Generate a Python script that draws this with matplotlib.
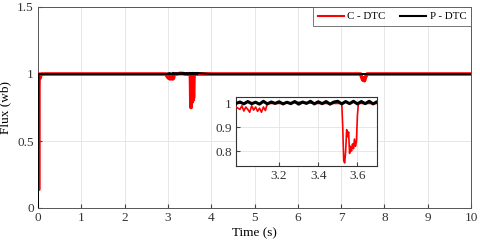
import matplotlib
matplotlib.use('Agg')
import matplotlib.pyplot as plt

# C - DTC flux (red)
t_c = [0.0, 0.02, 0.021, 0.025, 0.04, 0.05, 0.06, 0.08, 0.1, 1.0, 2.0, 2.95,
       3.0, 3.01, 3.02, 3.03, 3.04, 3.05, 3.06, 3.07, 3.08, 3.09, 3.1, 3.11,
       3.12, 3.13, 3.14, 3.2, 3.3, 3.4, 3.5, 3.52, 3.525, 3.53, 3.535, 3.54,
       3.545, 3.55, 3.555, 3.56, 3.565, 3.57, 3.575, 3.58, 3.585, 3.59, 3.595,
       3.6, 3.605, 3.65, 3.7, 4.0, 5.0, 6.0, 7.0, 7.45, 7.5, 7.52, 7.54, 7.56,
       7.6, 8.0, 9.0, 10.0]
flux_c = [0.14, 0.14, 0.9, 1.0, 0.985, 0.97, 0.99, 1.0, 1.0, 1.0, 1.0, 1.0,
          0.975, 0.99, 0.968, 0.985, 0.975, 0.963, 0.99, 0.972, 0.985, 0.967, 0.98, 0.963,
          0.985, 0.97, 1.0, 1.0, 1.005, 1.0, 1.0, 1.0, 0.9, 0.76, 0.75, 0.8,
          0.89, 0.86, 0.88, 0.79, 0.82, 0.8, 0.83, 0.81, 0.85, 0.82, 0.84,
          0.95, 1.0, 1.0, 1.0, 1.0, 1.0, 1.0, 1.0, 1.0, 0.955, 0.97, 0.95, 0.975,
          1.0, 1.0, 1.0, 1.0]

# P - DTC flux (black)
t_p = [0.0, 0.01, 0.02, 1.0, 2.0, 2.98, 3.0, 3.02, 3.04, 3.06, 3.08, 3.1, 3.12,
       3.14, 3.16, 3.18, 3.2, 3.22, 3.24, 3.26, 3.28, 3.3, 3.32, 3.34, 3.36,
       3.38, 3.4, 3.42, 3.44, 3.46, 3.48, 3.5, 3.52, 3.54, 3.56, 3.58, 3.6,
       3.62, 3.64, 3.66, 3.68, 3.7, 4.0, 5.0, 6.0, 7.0, 8.0, 9.0, 10.0]
flux_p = [0.0, 1.0, 1.0, 1.0, 1.0, 1.0, 1.006, 0.998, 1.008, 0.999, 1.005, 0.997, 1.009,
          0.998, 1.006, 1.0, 1.007, 0.998, 1.005, 0.999, 1.008, 0.997, 1.006, 1.0, 1.009,
          0.998, 1.007, 0.999, 1.008, 0.997, 1.006, 1.009, 0.998, 1.008, 0.999, 1.009, 0.998,
          1.008, 0.999, 1.009, 0.998, 1.007, 1.0, 1.0, 1.0, 1.0, 1.0, 1.0, 1.0]

plt.rcParams['font.family'] = ['Liberation Serif', 'DejaVu Serif']
plt.rcParams['font.size'] = 9.5

fig = plt.figure(figsize=(4.8, 2.47), dpi=100)
ax = fig.add_axes([38 / 480, 1 - 208 / 247, 433 / 480, 201 / 247])

ax.plot(t_c, flux_c, color='red', lw=2.6, label='C - DTC', zorder=3)
ax.plot(t_p, flux_p, color='black', lw=1.4, label='P - DTC', zorder=4)
ax.set_xlim(0, 10)
ax.set_ylim(0, 1.5)
ax.set_xticks(range(0, 11))
ax.set_yticks([0, 0.5, 1, 1.5])
ax.set_yticklabels(['0', '0.5', '1', '1.5'])
ax.grid(True, color='#e3e3e3', lw=0.6)
ax.tick_params(direction='in', length=3, color='#444444', labelcolor='#333333', pad=3)
for s in ax.spines.values():
    s.set_color('#555555')
    s.set_linewidth(0.7)
ax.set_xlabel('Time (s)', labelpad=2)
ax.set_ylabel('Flux (wb)', labelpad=4)

leg = ax.legend(loc='upper right', ncol=2, frameon=True, fancybox=False,
                edgecolor='#555555', borderaxespad=0, handlelength=2.4,
                columnspacing=1.4, fontsize=7.8, borderpad=0.45, handletextpad=0.3)
leg.get_frame().set_linewidth(0.7)
for ln in leg.get_lines():
    ln.set_linewidth(1.5)

# inset zoom
axi = fig.add_axes([236 / 480, 1 - 166 / 247, 141 / 480, 69 / 247])
axi.plot(t_c, flux_c, color='red', lw=1.2, zorder=3)
axi.plot(t_p, flux_p, color='black', lw=2.2, zorder=4)
axi.set_xlim(2.98, 3.7)
axi.set_ylim(0.737, 1.027)
axi.set_xticks([3.2, 3.4, 3.6])
axi.set_yticks([0.8, 0.9, 1])
axi.set_yticklabels(['0.8', '0.9', '1'])
axi.grid(True, color='#e3e3e3', lw=0.6)
axi.tick_params(direction='in', length=3, color='#444444', labelcolor='#333333', pad=3)
for s in axi.spines.values():
    s.set_color('#333333')
    s.set_linewidth(0.8)

fig.savefig('out.png', dpi=100)
